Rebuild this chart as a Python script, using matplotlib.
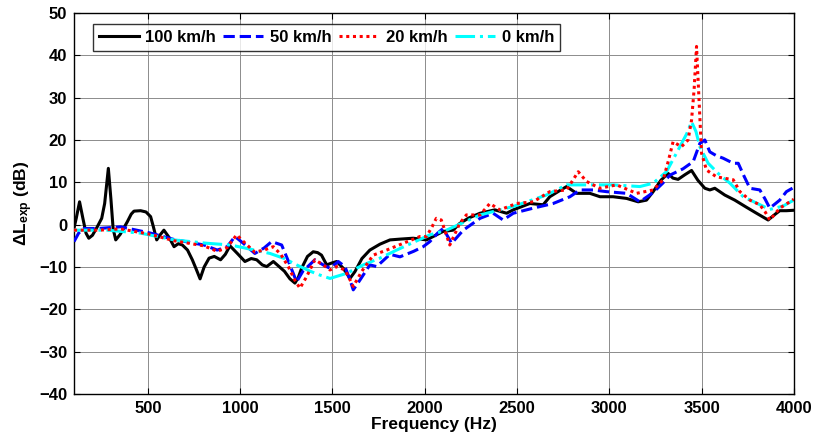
import matplotlib
matplotlib.use("Agg")
import matplotlib.pyplot as plt

plt.rcParams['font.family'] = ['Liberation Sans', 'DejaVu Sans']
plt.rcParams['font.weight'] = 'bold'
plt.rcParams['mathtext.fontset'] = 'custom'
plt.rcParams['mathtext.bf'] = 'Liberation Sans:bold'
plt.rcParams['mathtext.rm'] = 'Liberation Sans:bold'
plt.rcParams['mathtext.it'] = 'Liberation Sans:bold'

# 100 km/h
f_100 = [100, 112, 130, 148, 165, 180, 200, 226, 250, 266, 286, 300, 312, 326, 350,
         389, 410, 425, 461, 490, 515, 530, 548, 565, 587, 615, 642, 665, 687,
         715, 741, 762, 783, 805, 832, 860, 894, 920, 945, 985, 1026, 1060, 1090,
         1120, 1144, 1180, 1240, 1270, 1297, 1315, 1333, 1365, 1396, 1420, 1441,
         1469, 1500, 1523, 1559, 1595, 1622, 1660, 1703, 1758, 1812, 1870, 1938,
         2010, 2100, 2154, 2190, 2240, 2300, 2380, 2444, 2480, 2570, 2642, 2678,
         2730, 2769, 2823, 2895, 2950, 3021, 3094, 3157, 3202, 3238, 3280, 3319,
         3345, 3373, 3410, 3446, 3480, 3518, 3545, 3572, 3626, 3680, 3744, 3798,
         3861, 3900, 3924, 3960, 4000]
l_100 = [-0.8, 1.5, 5.4, 1.5, -2.0, -3.2, -2.5, -0.5, 1.5, 5.0, 13.3, 6.0, -1.0, -3.6, -2.3,
         0.7, 2.5, 3.2, 3.3, 3.0, 1.9, -0.5, -3.6, -2.5, -1.3, -3.0, -5.2, -4.5, -4.8,
         -6.0, -8.3, -10.5, -12.8, -10.0, -7.9, -7.5, -8.3, -7.0, -5.0, -6.8, -8.7, -8.0, -8.3,
         -9.5, -9.9, -8.7, -11.0, -12.8, -13.8, -12.5, -10.3, -7.5, -6.4, -6.6, -7.2,
         -9.5, -9.0, -8.7, -10.3, -12.7, -11.1, -8.0, -6.0, -4.6, -3.6, -3.4, -3.2,
         -3.6, -1.6, -1.3, 0.3, 1.6, 2.7, 3.5, 2.7, 3.5, 5.0, 4.7, 6.6,
         8.0, 9.0, 7.4, 7.4, 6.6, 6.6, 6.2, 5.4, 5.8, 7.8, 10.5, 12.1,
         11.0, 10.7, 11.8, 12.8, 10.5, 8.6, 8.2, 8.6, 7.0, 5.8, 4.1, 2.7,
         1.1, 2.5, 3.3, 3.3, 3.4]

# 50 km/h
f_50 = [100, 125, 154, 235, 353, 515, 642, 804, 876, 930, 972, 1020, 1080, 1130, 1171,
        1225, 1265, 1306, 1340, 1405, 1450, 1487, 1532, 1568, 1595, 1613, 1649, 1703,
        1740, 1812, 1866, 1940, 1992, 2028, 2070, 2100, 2146, 2209, 2300, 2371, 2425,
        2480, 2588, 2696, 2787, 2841, 2913, 2985, 3094, 3166, 3238, 3290, 3329, 3400,
        3455, 3491, 3518, 3545, 3580, 3617, 3672, 3699, 3730, 3762, 3816, 3845, 3870,
        3924, 3960, 4000]
l_50 = [-4.0, -2.0, -0.9, -0.9, -0.5, -2.0, -3.5, -4.8, -6.0, -5.2, -2.8, -4.5, -6.8, -5.5, -4.0,
        -4.8, -9.0, -13.5, -11.0, -8.3, -9.5, -10.3, -8.7, -9.9, -13.0, -15.4, -13.1, -9.5,
        -9.9, -7.0, -7.6, -6.3, -5.2, -4.0, -2.0, -0.9, -4.4, -1.3, 1.5, 2.7, 1.1,
        2.7, 3.9, 5.0, 6.6, 8.2, 8.2, 7.8, 7.4, 5.4, 7.6, 9.8, 11.7, 13.2,
        14.9, 19.2, 20.0, 17.2, 16.3, 15.7, 14.5, 14.5, 11.5, 8.6, 8.2, 6.0, 3.9,
        5.8, 7.8, 8.8]

# 20 km/h
f_20 = [100, 235, 353, 515, 642, 804, 876, 930, 981, 1030, 1080, 1130, 1180, 1220, 1261,
        1295, 1324, 1360, 1405, 1450, 1487, 1523, 1568, 1595, 1613, 1658, 1721, 1794,
        1884, 1974, 2010, 2040, 2063, 2090, 2136, 2190, 2226, 2300, 2353, 2407, 2498,
        2588, 2678, 2769, 2832, 2877, 2949, 3040, 3148, 3238, 3292, 3320, 3346, 3391,
        3427, 3446, 3460, 3473, 3486, 3500, 3527, 3581, 3672, 3708, 3762, 3816, 3845,
        3870, 3924, 4000]
l_20 = [-1.3, -1.3, -1.0, -2.3, -3.8, -5.0, -6.3, -5.4, -2.4, -4.5, -6.5, -6.0, -5.2, -7.0, -9.9,
        -13.0, -15.0, -12.3, -8.3, -9.5, -10.7, -9.9, -10.7, -13.0, -14.6, -11.1, -7.2, -6.0,
        -4.4, -2.8, -2.8, -0.5, 1.5, 1.1, -4.8, 0.3, 2.3, 2.3, 5.0, 3.5, 5.0,
        5.4, 7.8, 8.2, 12.5, 10.2, 8.6, 9.4, 7.4, 8.2, 10.6, 15.0, 19.6, 18.4,
        20.0, 24.7, 32.0, 42.1, 30.0, 16.9, 12.9, 11.3, 10.6, 7.8, 5.8, 4.7, 3.0,
        1.1, 3.9, 6.0]

# 0 km/h
f_0 = [100, 280, 461, 642, 822, 949, 1035, 1162, 1240, 1306, 1380, 1432, 1487, 1577, 1667,
       1758, 1848, 1938, 2028, 2118, 2300, 2480, 2660, 2769, 2895, 3021, 3166, 3238, 3310,
       3373, 3420, 3446, 3470, 3491, 3536, 3600, 3654, 3726, 3798, 3870, 3942, 4000]
l_0 = [-1.3, -1.3, -2.0, -3.6, -4.4, -4.8, -5.6, -6.8, -8.0, -9.5, -11.0, -11.9, -12.7, -11.5, -9.5,
       -7.9, -6.0, -4.2, -2.4, -1.3, 2.3, 4.3, 7.0, 9.4, 9.4, 9.4, 9.0, 9.8, 12.5,
       17.6, 21.5, 24.3, 22.0, 18.4, 14.5, 11.7, 9.8, 6.6, 5.1, 3.6, 4.4, 5.8]

fig = plt.figure(figsize=(8.17, 4.4), dpi=100)
ax = fig.add_axes([0.0906, 0.1045, 0.881, 0.866])

lw = 2.2
ax.plot(f_100, l_100, color='black', lw=lw, ls='-', label='100 km/h', zorder=3)
ax.plot(f_50, l_50, color='#0000ff', lw=lw, ls=(0, (3.7, 1.6)), label='50 km/h', zorder=4)
ax.plot(f_20, l_20, color='#ff0000', lw=lw, ls=(0, (1, 1.2)), label='20 km/h', zorder=5)
ax.plot(f_0, l_0, color='#00ffff', lw=lw, ls=(0, (6.4, 1.6, 1, 1.6)), label='0 km/h', zorder=4)

ax.set_xlim(100, 4000)
ax.set_ylim(-40, 50)
ax.set_xticks([500, 1000, 1500, 2000, 2500, 3000, 3500, 4000])
ax.set_yticks(range(-40, 51, 10))
ax.grid(True, color='0.55', lw=0.7)
ax.tick_params(direction='in', top=True, right=True, length=4, labelsize=12, width=0.8, pad=5)
for s in ax.spines.values():
    s.set_linewidth(1.0)

ax.set_xlabel('Frequency (Hz)', fontsize=12.5, fontweight='bold', labelpad=1)
ax.set_ylabel(r'$\mathbf{\Delta L_{exp}}$ (dB)', fontsize=12.5, fontweight='bold', labelpad=3)

leg = ax.legend(loc='upper left', bbox_to_anchor=(0.026, 0.971), ncol=4, fontsize=12,
                frameon=True, fancybox=False, edgecolor='black', handlelength=2.4,
                handletextpad=0.4, columnspacing=0.45, borderpad=0.35, borderaxespad=0)
leg.get_frame().set_linewidth(1.0)

fig.savefig('out.png', dpi=100)
